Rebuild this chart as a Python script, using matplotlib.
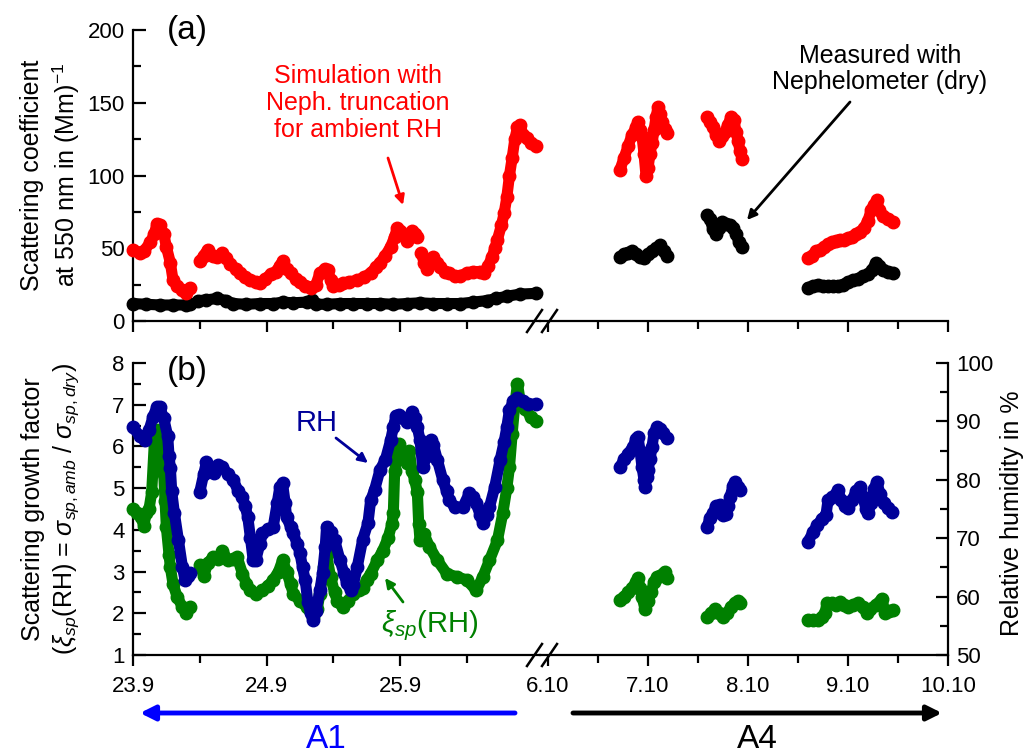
import numpy as np
import matplotlib
matplotlib.use("Agg")
import matplotlib.pyplot as plt
from matplotlib.patches import FancyArrowPatch
from matplotlib.lines import Line2D

plt.rcParams['font.family'] = ['Liberation Sans', 'DejaVu Sans']
plt.rcParams['mathtext.fontset'] = 'custom'
plt.rcParams['mathtext.rm'] = 'Liberation Sans'
plt.rcParams['mathtext.it'] = 'Liberation Sans:italic'
plt.rcParams['mathtext.bf'] = 'Liberation Sans:bold'

nan = np.nan
# ---------------- data (panel a) ----------------
# left part: days of September (23.9 = 23 Sep), right part: days of October
t_red_left = [23.90, 23.95, 23.98, 24.03, 24.06, 24.08, 24.10, 24.13, 24.15, 24.18, 24.20, 24.23, 24.27, 24.30, 24.33, nan,
              24.40, 24.43, 24.46, 24.50, 24.53, 24.57, 24.60, 24.63, 24.67, 24.70, 24.74, 24.78, 24.82, 24.85, 24.89,
              24.93, 24.97, 25.00, 25.02, 25.05, 25.08, 25.12, 25.15, 25.19, 25.23, 25.27, 25.30, 25.34, 25.36, 25.38,
              25.40, 25.44, 25.47, 25.52, 25.58, 25.63, 25.68, 25.72, 25.75, 25.79, 25.83, 25.86, 25.88, 25.90, 25.92,
              25.95, 25.97, 25.99, 26.01, 26.03, nan, 26.06, 26.08, 26.10, 26.13, 26.15, 26.18, 26.20, 26.24, 26.27,
              26.31, 26.35, 26.40, 26.45, 26.50, 26.53, 26.56, 26.59, 26.61, 26.63, 26.66, 26.68, 26.70, 26.72, 26.74,
              26.76, 26.78, 26.80, 26.82, 26.85, 26.88, 26.92]
red_left = [49, 47, 48, 54, 60, 67, 66, 60, 51, 40, 28, 24, 21, 19, 23, nan,
            41, 45, 49, 45, 44, 47, 43, 39, 36, 33, 30, 28, 27, 26, 29,
            32, 34, 38, 41, 36, 33, 29, 27, 24, 23, 25, 33, 36, 35, 28,
            24, 25, 26, 27, 28, 30, 33, 37, 40, 45, 51, 58, 64, 62, 60,
            55, 58, 62, 60, 58, nan, 47, 40, 36, 42, 44, 40, 37, 34, 33,
            31, 31, 33, 34, 34, 33, 38, 44, 50, 56, 66, 74, 85, 100, 112,
            125, 133, 135, 128, 126, 122, 120]

t_blk_left = [23.90, 24.00, 24.10, 24.20, 24.30, 24.33, nan, 24.39, 24.45, 24.53, 24.60, 24.65, 24.75, 24.85, 24.95,
              25.02, 25.10, 25.20, 25.24, 25.27, 25.35, 25.45, 25.55, 25.65, 25.75, 25.85, 25.95, 26.05, 26.15,
              26.25, 26.35, 26.45, 26.55, 26.62, 26.70, 26.80, 26.92]
blk_left = [12, 11.5, 11, 11, 11, 11.5, nan, 14, 14.5, 15.5, 14, 12, 11.5, 12, 12,
            13, 12.5, 13, 14.5, 11.5, 11.5, 12, 12, 12, 12, 11.5, 12, 12.5, 12,
            12, 12, 13, 14, 15.5, 17, 18.5, 19]

t_red_right = [6.72, 6.76, 6.80, 6.84, 6.88, 6.90, 6.92, 6.94, 6.96, 6.98, 7.00, 7.02, 7.04, 7.06, 7.08, 7.10, 7.12,
               7.14, 7.17, 7.19, nan,
               7.59, 7.62, 7.65, 7.68, 7.71, 7.74, 7.77, 7.80, 7.83, 7.86, 7.88, 7.90, 7.92, 7.94, nan,
               8.60, 8.64, 8.68, 8.72, 8.76, 8.80, 8.84, 8.88, 8.92, 8.96, 9.00, 9.04, 9.08, 9.12, 9.16, 9.20,
               9.23, 9.26, 9.29, 9.31, 9.35, 9.40, 9.45]
red_right = [104, 112, 120, 128, 133, 137, 131, 127, 115, 100, 105, 115, 122, 131, 140, 147, 142,
             137, 132, 129, nan,
             140, 137, 133, 128, 124, 127, 130, 135, 140, 138, 130, 124, 117, 111, nan,
             43, 45, 48, 49, 51, 53, 54, 55, 56, 56, 57, 58, 60, 61, 64, 69,
             76, 80, 83, 76, 72, 70, 68]

t_blk_right = [6.72, 6.76, 6.80, 6.84, 6.88, 6.92, 6.96, 7.00, 7.04, 7.08, 7.12, 7.16, 7.19, nan,
               7.59, 7.62, 7.65, 7.68, 7.71, 7.74, 7.78, 7.82, 7.85, 7.88, 7.91, 7.94, nan,
               8.60, 8.65, 8.70, 8.75, 8.80, 8.85, 8.90, 8.95, 9.00, 9.05, 9.10, 9.15, 9.20, 9.24, 9.28,
               9.31, 9.35, 9.40, 9.45]
blk_right = [44, 46, 47, 48, 46, 44, 43.5, 46, 48, 50, 52, 48, 45, nan,
             73, 70, 63, 60, 64, 68, 67, 66, 64, 60, 54, 51, nan,
             23, 24, 25, 24, 24, 24, 24, 25, 27, 28, 29, 31, 32, 35, 40,
             38, 35, 34, 33]

# ---------------- data (panel b) ----------------
t_rh_left = [23.90, 23.95, 23.99, 24.02, 24.05, 24.08, 24.10, 24.13, 24.16, 24.17, 24.18, 24.19, 24.21, 24.24, 24.27,
             24.29, 24.31, 24.33, nan,
             24.40, 24.43, 24.45, 24.48, 24.51, 24.54, 24.57, 24.61, 24.65, 24.69, 24.72, 24.74, 24.76, 24.78, 24.80,
             24.82, 24.85, 24.87, 24.91, 24.95, 24.98, 25.00, 25.02, 25.04, 25.05, 25.08, 25.10, 25.13, 25.15, 25.17,
             25.19, 25.21, 25.23, 25.25, 25.27, 25.30, 25.32, 25.34, 25.35, 25.38, 25.41, 25.45, 25.48, 25.50, 25.53,
             25.55, 25.58, 25.62, 25.66, 25.68, 25.71, 25.75, 25.79, 25.83, 25.85, 25.87, 25.89, 25.92, 25.95, 25.97,
             25.99, 26.01, 26.03, 26.05, 26.07, 26.10, 26.13, 26.15, 26.18, 26.22, 26.25, 26.27, 26.31, 26.37, 26.42,
             26.45, 26.47, 26.50, 26.52, 26.55, 26.57, 26.61, 26.65, 26.68, 26.70, 26.72, 26.75, 26.78, 26.82, 26.86,
             26.92]
rh_left = [89, 87.5, 86.8, 88.5, 90.8, 92.5, 92.5, 90.5, 87.5, 84, 82, 78, 74.3, 69.7, 65.1,
           62.8, 63.5, 64, nan,
           77.9, 81, 83, 82, 81.2, 82.5, 82.2, 81, 80, 78, 77, 75.5, 73.6, 70, 66.3,
           66.3, 69, 70.9, 71.5, 71.9, 76, 78.8, 79.4, 76, 73.6, 72, 70.9, 69, 67.5, 65,
           62.8, 59, 57.2, 56, 57.5, 61.1, 64, 68.5, 72, 71, 69.7, 66.3, 64, 62.3, 61.1,
           62, 65.1, 69.7, 72.6, 76.5, 78.3, 81.7, 83.4, 86.8, 89, 91, 91.1, 90.5, 89.9, 90.5,
           91.6, 90.5, 89, 86.8, 82.2, 84, 86.8, 86, 83.4, 80, 78, 76.5, 75.3, 75.3, 77.7,
           77, 76, 74, 72.6, 74, 75.3, 78.8, 83.4, 86.5, 89, 92, 93.5, 94, 93.5, 93,
           92.9]

t_xi_left = [23.90, 23.93, 23.96, 23.98, 24.00, 24.02, 24.04, 24.06, 24.08, 24.10, 24.12, 24.13, 24.14, 24.15, 24.17,
             24.18, 24.20, 24.23, 24.27, 24.30, 24.33, nan,
             24.40, 24.43, 24.46, 24.50, 24.54, 24.57, 24.61, 24.65, 24.68, 24.72, 24.75, 24.78, 24.82, 24.87, 24.91,
             24.95, 24.99, 25.02, 25.05, 25.08, 25.10, 25.15, 25.20, 25.25, 25.28, 25.30, 25.33, 25.35, 25.38, 25.41,
             25.43, 25.47, 25.51, 25.55, 25.59, 25.62, 25.65, 25.68, 25.73, 25.77, 25.81, 25.84, 25.85, 25.86, 25.89,
             25.92, 25.95, 25.97, 25.99, 26.01, 26.03, 26.04, 26.05, 26.08, 26.12, 26.18, 26.25, 26.33, 26.40, 26.47,
             26.52, 26.57, 26.63, 26.67, 26.70, 26.72, 26.74, 26.76, 26.78, 26.80, 26.84, 26.88, 26.92]
xi_left = [4.5, 4.4, 4.3, 4.1, 4.4, 4.5, 4.9, 6.1, 6.4, 5.8, 5.5, 5.35, 4.7, 4.06, 3.4,
           3.1, 2.7, 2.4, 2.15, 2.0, 2.15, nan,
           3.15, 2.9, 3.2, 3.35, 3.3, 3.5, 3.27, 3.3, 3.35, 2.95, 2.7, 2.55, 2.47, 2.55, 2.65,
           2.8, 3.0, 3.27, 3.0, 2.7, 2.47, 2.3, 2.15, 1.9, 2.1, 2.47, 3.1, 3.4, 2.87, 2.5,
           2.3, 2.15, 2.3, 2.47, 2.55, 2.6, 2.8, 2.95, 3.27, 3.5, 3.8, 4.15, 4.4, 5.4, 6.05,
           5.75, 5.6, 5.9, 5.4, 5.2, 4.9, 4.15, 3.75, 3.9, 3.6, 3.27, 2.95, 2.87, 2.8, 2.55,
           2.87, 3.27, 3.75, 4.4, 5.0, 5.5, 6.3, 7.0, 7.5, 7.1, 6.9, 6.7, 6.6]

t_rh_right = [6.72, 6.76, 6.80, 6.85, 6.88, 6.90, 6.92, 6.94, 6.96, 6.97, 6.99, 7.00, 7.02, 7.04, 7.06, 7.09, 7.12,
              7.15, 7.19, nan,
              7.59, 7.62, 7.65, 7.68, 7.72, 7.75, 7.78, 7.80, 7.82, 7.85, 7.87, 7.90, 7.92, nan,
              8.60, 8.65, 8.69, 8.74, 8.78, 8.80, 8.84, 8.88, 8.90, 8.93, 8.97, 9.00, 9.04, 9.08, 9.12, 9.15,
              9.18, 9.20, 9.23, 9.26, 9.29, 9.32, 9.36, 9.40, 9.44]
rh_right = [82.2, 83.5, 84.5, 85.6, 87, 87.3, 85, 82.2, 80, 78.8, 80.5, 81.7, 83.5, 85.6, 88, 89, 88.7,
            88, 87.2, nan,
            71.9, 73.5, 74.3, 75.5, 75.7, 74, 74.2, 75.5, 77, 79, 79.6, 78.8, 78.3, nan,
            69.4, 71, 72.2, 73.3, 74, 76.5, 77, 77.5, 78.3, 76.5, 75.5, 75.2, 76.5, 78, 78.8, 77,
            75, 74.3, 76, 78.5, 79.6, 77.5, 76, 75.2, 74.5]

t_xi_right = [6.72, 6.76, 6.80, 6.84, 6.88, 6.90, 6.92, 6.94, 6.97, 7.00, 7.03, 7.06, 7.09, 7.12, 7.15, 7.17, 7.19, nan,
              7.59, 7.63, 7.67, 7.71, 7.75, 7.79, 7.83, 7.87, 7.90, 7.92, nan,
              8.60, 8.65, 8.70, 8.74, 8.77, 8.79, 8.84, 8.88, 8.92, 8.96, 9.00, 9.05, 9.10, 9.15, 9.19, 9.22,
              9.28, 9.34, 9.37, 9.41, 9.45]
xi_right = [2.32, 2.4, 2.5, 2.6, 2.75, 2.85, 2.6, 2.4, 2.1, 2.3, 2.5, 2.75, 2.87, 2.9, 2.95, 3.0, 2.85, nan,
            1.9, 2.0, 2.1, 2.0, 1.9, 2.0, 2.15, 2.25, 2.3, 2.25, nan,
            1.85, 1.85, 1.85, 1.9, 2.0, 2.25, 2.25, 2.2, 2.27, 2.2, 2.15, 2.2, 2.25, 2.15, 2.0, 2.1,
            2.2, 2.35, 2.0, 2.05, 2.07]

left_major = [23.9, 24.9, 25.9]
left_minor = [24.4, 25.4, 26.4]
left_labels = ['23.9', '24.9', '25.9']
right_major = [6, 7, 8, 9, 10]
right_minor = [6.5, 7.5, 8.5, 9.5]
right_labels = ['6.10', '7.10', '8.10', '9.10', '10.10']

# ---------------- layout ----------------
W, H = 1035, 755
fig = plt.figure(figsize=(W / 100, H / 100), dpi=100)

def add_ax(x0, y0, x1, y1):
    return fig.add_axes([x0 / W, 1 - y1 / H, (x1 - x0) / W, (y1 - y0) / H])

def fx(x):
    return x / W

def fy(y):
    return 1 - y / H

RED, BLK, BLUE, GREEN = '#ff0000', '#000000', '#000099', '#008000'
MS, LW = 9, 8
TICKFS = 16

XBREAK = 540
axa_l = add_ax(133, 30, XBREAK, 321)
axa_r = add_ax(XBREAK, 30, 948, 321)
axb_l = add_ax(133, 363, XBREAK, 655)
axb_r = add_ax(XBREAK, 363, 948, 655)
axb_lt = axb_l.twinx()
axb_rt = axb_r.twinx()

xl_left = (23.9, 23.9 + (XBREAK - 133) / 133.5)
xl_right = (6.0 - (548 - XBREAK) / 100.0, 10.0)

def style_common(ax):
    for s in ax.spines.values():
        s.set_linewidth(1.6)
    ax.tick_params(labelsize=TICKFS, width=1.6)
    ax.patch.set_alpha(0)

for ax in (axa_l, axa_r, axb_l, axb_r, axb_lt, axb_rt):
    style_common(ax)
    for s in ('top', 'right', 'left'):
        ax.spines[s].set_visible(False)

for ax in (axa_l, axb_l, axb_lt):
    ax.set_xlim(*xl_left)
    ax.set_xticks(left_major)
    ax.set_xticks(left_minor, minor=True)
for ax in (axa_r, axb_r, axb_rt):
    ax.set_xlim(*xl_right)
    ax.set_xticks(right_major)
    ax.set_xticks(right_minor, minor=True)

for ax in (axa_l, axa_r, axb_l, axb_r):
    ax.tick_params(axis='x', which='major', direction='out', length=8, width=1.6)
    ax.tick_params(axis='x', which='minor', direction='out', length=6, width=1.6)

axa_l.set_xticklabels([])
axa_r.set_xticklabels([])
axb_l.set_xticklabels(left_labels)
axb_r.set_xticklabels(right_labels)
for ax in (axb_l, axb_r):
    ax.tick_params(axis='x', pad=7)

# y axes
axa_l.spines['left'].set_visible(True)
axa_l.set_ylim(0, 200)
axa_l.set_yticks([0, 50, 100, 150, 200])
axa_l.set_yticks([25, 75, 125, 175], minor=True)
axa_l.tick_params(axis='y', which='major', direction='in', length=9, width=1.6, pad=6)
axa_l.tick_params(axis='y', which='minor', direction='in', length=6, width=1.6)
axa_r.set_ylim(0, 200)
axa_r.set_yticks([])

axb_l.spines['left'].set_visible(True)
axb_l.set_ylim(1, 8)
axb_l.set_yticks(range(1, 9))
axb_l.set_yticks(np.arange(1.5, 8, 1.0), minor=True)
axb_l.tick_params(axis='y', which='major', direction='in', length=9, width=1.6, pad=6)
axb_l.tick_params(axis='y', which='minor', direction='in', length=6, width=1.6)
axb_r.set_ylim(1, 8)
axb_r.set_yticks([])
axb_lt.set_ylim(50, 100)
axb_lt.set_yticks([])
axb_rt.set_ylim(50, 100)
axb_rt.spines['right'].set_visible(True)
axb_rt.set_yticks(range(50, 101, 10))
axb_rt.set_yticks(range(55, 100, 10), minor=True)
axb_rt.tick_params(axis='y', which='major', direction='in', length=9, width=1.6, pad=6)
axb_rt.tick_params(axis='y', which='minor', direction='in', length=6, width=1.6)
for ax in (axb_lt, axb_rt):
    ax.spines['bottom'].set_visible(False)
    ax.tick_params(axis='x', which='both', bottom=False, labelbottom=False)

def series(ax, t, v, c):
    ax.plot(t, v, '-', color=c, lw=LW, solid_capstyle='round', solid_joinstyle='round', clip_on=False, zorder=3)
    ax.plot(t, v, 'o', color=c, ms=MS, mec=c, clip_on=False, zorder=3)

series(axa_l, t_blk_left, blk_left, BLK)
series(axa_l, t_red_left, red_left, RED)
series(axa_r, t_blk_right, blk_right, BLK)
series(axa_r, t_red_right, red_right, RED)
series(axb_l, t_xi_left, xi_left, GREEN)
series(axb_lt, t_rh_left, rh_left, BLUE)
series(axb_r, t_xi_right, xi_right, GREEN)
series(axb_rt, t_rh_right, rh_right, BLUE)

# break marks
for yb in (321, 655):
    for (xa, xb) in ((527, 542), (542, 557)):
        fig.add_artist(Line2D([fx(xa), fx(xb)], [fy(yb + 11), fy(yb - 11)], color='black', lw=1.8))

# panel labels and annotations
fig.text(fx(187), fy(30), '(a)', fontsize=24, ha='center', va='center')
fig.text(fx(187), fy(372), '(b)', fontsize=24, ha='center', va='center')

fig.text(fx(358), fy(103), 'Simulation with\nNeph. truncation\nfor ambient RH', color=RED, fontsize=18,
         ha='center', va='center', linespacing=1.15)
fig.text(fx(880), fy(69), 'Measured with\nNephelometer (dry)', color='black', fontsize=18,
         ha='center', va='center', linespacing=1.15)
fig.text(fx(317), fy(423), 'RH', color=BLUE, fontsize=21, ha='center', va='center')
fig.text(fx(430), fy(626), r'$\xi_{sp}$(RH)', color=GREEN, fontsize=21, ha='center', va='center')

def arrow(p0, p1, color, lw=2.0, ms=14):
    a = FancyArrowPatch((fx(p0[0]), fy(p0[1])), (fx(p1[0]), fy(p1[1])), transform=fig.transFigure,
                        arrowstyle='-|>', mutation_scale=ms, color=color, lw=lw, shrinkA=0, shrinkB=0)
    fig.add_artist(a)

arrow((388, 158), (403, 205), RED)
arrow((850, 102), (747, 220), 'black')
arrow((336, 438), (368, 463), BLUE)
arrow((403, 602), (385, 578), GREEN)
arrow((515, 713), (140, 713), '#0000ff', lw=3.5, ms=22)
arrow((573, 713), (942, 713), 'black', lw=3.5, ms=22)
fig.text(fx(326), fy(739), 'A1', color='#0000ff', fontsize=24, ha='center', va='center')
fig.text(fx(757), fy(739), 'A4', color='black', fontsize=24, ha='center', va='center')

# axis titles
fig.text(fx(51), fy(175), 'Scattering coefficient\nat 550 nm in (Mm)$^{-1}$', fontsize=18, rotation=90,
         ha='center', va='center', linespacing=1.3)
fig.text(fx(51), fy(509), 'Scattering growth factor\n'
         r'($\xi_{sp}$(RH) = $\sigma_{sp,amb}$ / $\sigma_{sp,dry}$)', fontsize=18, rotation=90,
         ha='center', va='center', linespacing=1.3)
fig.text(fx(1012), fy(513), 'Relative humidity in %', fontsize=18, rotation=90, ha='center', va='center')

fig.savefig('out.png', dpi=100)
